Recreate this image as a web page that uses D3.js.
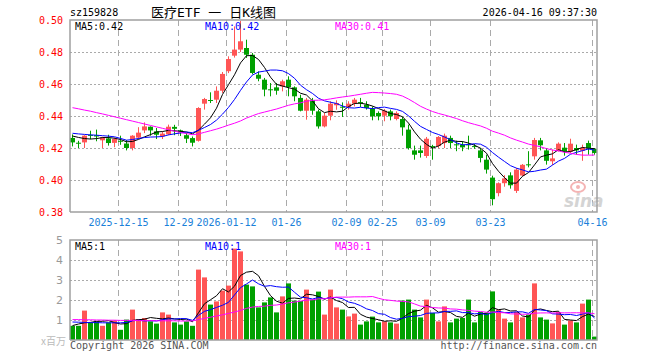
<!DOCTYPE html>
<html>
<head>
<meta charset="utf-8">
<script src="https://cdn.jsdelivr.net/npm/d3@7"></script>
<style>
  body { margin: 0; background: #fff; }
  text { font-family: "DejaVu Sans Mono", monospace; font-size: 10px; }
</style>
</head>
<body>
<div id="chart"></div>
<script>
// trading days shown (88 sessions)
const dates = [
  "2025-12-03","2025-12-04","2025-12-05","2025-12-08","2025-12-09","2025-12-10","2025-12-11","2025-12-12",
  "2025-12-15","2025-12-16","2025-12-17","2025-12-18","2025-12-19","2025-12-22","2025-12-23","2025-12-24",
  "2025-12-25","2025-12-26","2025-12-29","2025-12-30","2025-12-31","2026-01-05","2026-01-06","2026-01-07",
  "2026-01-08","2026-01-09","2026-01-12","2026-01-13","2026-01-14","2026-01-15","2026-01-16","2026-01-19",
  "2026-01-20","2026-01-21","2026-01-22","2026-01-23","2026-01-26","2026-01-27","2026-01-28","2026-01-29",
  "2026-01-30","2026-02-02","2026-02-03","2026-02-04","2026-02-05","2026-02-06","2026-02-09","2026-02-10",
  "2026-02-11","2026-02-12","2026-02-13","2026-02-24","2026-02-25","2026-02-26","2026-02-27","2026-03-02",
  "2026-03-03","2026-03-04","2026-03-05","2026-03-06","2026-03-09","2026-03-10","2026-03-11","2026-03-12",
  "2026-03-13","2026-03-16","2026-03-17","2026-03-18","2026-03-19","2026-03-20","2026-03-23","2026-03-24",
  "2026-03-25","2026-03-26","2026-03-27","2026-03-30","2026-03-31","2026-04-01","2026-04-02","2026-04-03",
  "2026-04-07","2026-04-08","2026-04-09","2026-04-10","2026-04-13","2026-04-14","2026-04-15","2026-04-16"
]

const opens = [
  0.4263,0.4233,0.4235,0.4282,0.4280,0.4248,0.4260,0.4232,0.4245,0.4228,
  0.4200,0.4265,0.4310,0.4333,0.4304,0.4273,0.4285,0.4332,0.4310,0.4280,
  0.4262,0.4245,0.4477,0.4500,0.4502,0.4558,0.4680,0.4777,0.4815,0.4825,
  0.4783,0.4658,0.4627,0.4567,0.4579,0.4585,0.4627,0.4579,0.4513,0.4433,
  0.4498,0.4429,0.4335,0.4402,0.4467,0.4458,0.4456,0.4477,0.4487,0.4471,
  0.4446,0.4419,0.4402,0.4429,0.4381,0.4381,0.4315,0.4185,0.4185,0.4150,
  0.4212,0.4212,0.4231,0.4263,0.4223,0.4221,0.4223,0.4212,0.4185,0.4127,
  0.4015,0.3918,0.3980,0.4029,0.3932,0.4028,0.4098,0.4148,0.4248,0.4185,
  0.4117,0.4182,0.4202,0.4177,0.4200,0.4183,0.4231,0.4194
]
const highs = [
  0.4285,0.4245,0.4280,0.4308,0.4315,0.4270,0.4283,0.4265,0.4277,0.4250,
  0.4280,0.4330,0.4360,0.4335,0.4325,0.4304,0.4346,0.4345,0.4315,0.4294,
  0.4272,0.4455,0.4513,0.4548,0.4585,0.4675,0.4773,0.4960,0.4995,0.4877,
  0.4794,0.4679,0.4638,0.4606,0.4606,0.4627,0.4648,0.4585,0.4533,0.4513,
  0.4513,0.4440,0.4419,0.4492,0.4498,0.4485,0.4492,0.4513,0.4513,0.4492,
  0.4460,0.4429,0.4444,0.4440,0.4429,0.4394,0.4346,0.4215,0.4215,0.4269,
  0.4220,0.4275,0.4290,0.4277,0.4246,0.4242,0.4277,0.4225,0.4200,0.4158,
  0.4027,0.3985,0.4030,0.4048,0.4075,0.4100,0.4180,0.4263,0.4263,0.4200,
  0.4190,0.4235,0.4231,0.4258,0.4221,0.4221,0.4246,0.4200
]
const lows = [
  0.4210,0.4200,0.4200,0.4255,0.4242,0.4200,0.4215,0.4205,0.4220,0.4185,
  0.4185,0.4255,0.4293,0.4277,0.4256,0.4256,0.4280,0.4280,0.4275,0.4231,
  0.4210,0.4240,0.4440,0.4481,0.4481,0.4544,0.4668,0.4765,0.4800,0.4763,
  0.4660,0.4617,0.4523,0.4523,0.4533,0.4554,0.4523,0.4492,0.4429,0.4377,
  0.4408,0.4321,0.4329,0.4373,0.4439,0.4394,0.4440,0.4460,0.4456,0.4440,
  0.4373,0.4373,0.4367,0.4373,0.4373,0.4277,0.4190,0.4127,0.4140,0.4138,
  0.4127,0.4200,0.4200,0.4200,0.4180,0.4180,0.4190,0.4195,0.4110,0.4040,
  0.3842,0.3898,0.3958,0.3946,0.3919,0.4023,0.4079,0.4127,0.4185,0.4096,
  0.4094,0.4178,0.4152,0.4169,0.4158,0.4120,0.4158,0.4158
]
const closes = [
  0.4235,0.4230,0.4277,0.4280,0.4272,0.4267,0.4231,0.4256,0.4240,0.4200,
  0.4277,0.4296,0.4335,0.4310,0.4283,0.4290,0.4333,0.4320,0.4298,0.4258,
  0.4233,0.4450,0.4506,0.4496,0.4558,0.4663,0.4756,0.4815,0.4867,0.4783,
  0.4669,0.4633,0.4565,0.4563,0.4558,0.4617,0.4581,0.4523,0.4433,0.4502,
  0.4433,0.4335,0.4402,0.4477,0.4481,0.4455,0.4477,0.4502,0.4484,0.4450,
  0.4398,0.4398,0.4433,0.4398,0.4419,0.4329,0.4200,0.4158,0.4169,0.4258,
  0.4210,0.4269,0.4277,0.4231,0.4221,0.4204,0.4221,0.4210,0.4138,0.4065,
  0.3880,0.3980,0.4010,0.3967,0.4065,0.4095,0.4095,0.4250,0.4217,0.4120,
  0.4135,0.4227,0.4179,0.4227,0.4185,0.4200,0.4200,0.4169
]
// volume, millions of shares
const volumes = [
  0.71,0.71,1.47,0.85,0.93,0.71,0.88,0.97,0.51,1.02,
  1.52,1.05,1.10,0.93,0.82,1.38,1.27,0.88,0.77,0.93,
  0.71,3.52,3.13,1.77,1.93,2.47,2.72,4.57,4.43,2.77,
  2.68,1.63,1.88,2.13,1.38,2.18,2.83,1.97,1.95,2.52,
  2.02,2.42,1.27,2.52,1.63,1.52,1.18,1.32,0.77,0.93,
  1.17,0.88,0.93,0.88,0.82,1.97,2.02,1.52,1.13,2.02,
  1.35,0.93,1.68,0.88,1.07,1.10,2.02,0.88,1.40,1.35,
  2.43,1.52,1.07,0.88,1.40,1.13,1.27,2.83,1.13,1.02,
  0.83,1.40,0.77,0.98,0.88,1.82,2.02,0.17
]

// moving averages before enough sessions are on screen
const ma5Head = [0.4275,0.4266,0.4259,0.4256]
const ma10Head = [0.4292,0.4288,0.4285,0.4282,0.4280,0.4277,0.4274,0.4270,0.4260]
const ma30Head = [
  0.4452,0.4445,0.4437,0.4430,0.4421,0.4413,0.4404,0.4395,0.4386,0.4377,
  0.4368,0.4359,0.4350,0.4341,0.4332,0.4323,0.4314,0.4305,0.4297,0.4290,
  0.4283,0.4288,0.4298,0.4308,0.4318,0.4330,0.4343,0.4355,0.4369
]
const volMa5Head = [0.72,0.80,0.86,0.88]
const volMa10Head = [0.90,0.89,0.88,0.87,0.87,0.86,0.86,0.86,0.86]
const volMa30Head = [
  1.02,1.02,1.01,1.01,1.00,1.00,0.99,0.99,0.98,0.98,
  0.98,0.97,0.97,0.97,0.96,0.96,0.96,0.96,0.95,0.95,
  0.96,1.02,1.08,1.14,1.20,1.26,1.33,1.40,1.48
]

const tickDates = ["2025-12-15","2025-12-29","2026-01-12","2026-01-26","2026-02-09","2026-02-25","2026-03-09","2026-03-23","2026-04-16"]
const tickLabels = ["2025-12-15","12-29","2026-01-12","01-26","02-09","02-25","03-09","03-23","04-16"]
const priceTicks = [0.38,0.40,0.42,0.44,0.46,0.48,0.50]
const volTicks = [1,2,3,4,5]
const priceMaLabels = ["MA5:0.42","MA10:0.42","MA30:0.41"]
const volMaLabels = ["MA5:1","MA10:1","MA30:1"]

const W = 660, H = 360
const left = 70, right = 597
const main = {top: 20, bottom: 212}
const vol = {top: 240, bottom: 340}
const RED = '#ff5555', GREEN = '#00a000'
const maColors = ['#000000','#0000ff','#ff00ff']

const svg = d3.select('#chart').append('svg')
  .attr('width', W).attr('height', H)

const x = d3.scaleBand().domain(dates).range([left, left + dates.length * 6]).padding(0)
const cx = d => x(d) + 2.5
const y = d3.scaleLinear().domain([0.38, 0.50]).range([main.bottom, main.top])
const yv = d3.scaleLinear().domain([0, 5]).range([vol.bottom, vol.top])

const movingAvg = (vals, n, head) => vals.map((v, i) => i < n - 1 ? head[i] : d3.mean(vals.slice(i - n + 1, i + 1)))

const candles = dates.map((d, i) => ({
  date: d, o: opens[i], h: highs[i], l: lows[i], c: closes[i], v: volumes[i],
  up: closes[i] >= opens[i]
}))

// header
svg.append('text').attr('x', 70).attr('y', 16).text('sz159828')
svg.append('text').attr('x', 151).attr('y', 17)
  .style('font-family', '"DejaVu Sans Mono","Noto Sans CJK SC",monospace')
  .style('font-size', '13px')
  .text('医疗ETF 一 日K线图')
svg.append('text').attr('x', 597).attr('y', 16).attr('text-anchor', 'end').text('2026-04-16 09:37:30')

function gridPanel(top, bottom, yScale, hTicks) {
  const g = svg.append('g')
  g.selectAll('line.h').data(hTicks).enter().append('line')
    .attr('x1', left).attr('x2', right)
    .attr('y1', d => Math.round(yScale(d)) + 0.5).attr('y2', d => Math.round(yScale(d)) + 0.5)
    .attr('stroke', '#aaa').attr('stroke-dasharray', '2,2')
  g.selectAll('line.v').data(tickDates).enter().append('line')
    .attr('x1', d => x(d) + 0.5).attr('x2', d => x(d) + 0.5)
    .attr('y1', top).attr('y2', bottom)
    .attr('stroke', '#aaa').attr('stroke-dasharray', '6,4')
  return g
}

gridPanel(main.top, main.bottom, y, [0.40, 0.42, 0.44, 0.46, 0.48])
gridPanel(vol.top, vol.bottom, yv, [1, 2, 3, 4])

// watermark
const wm = svg.append('g')
wm.append('ellipse').attr('cx', 578).attr('cy', 187).attr('rx', 7).attr('ry', 5)
  .attr('fill', 'none').attr('stroke', '#f4b4b4').attr('stroke-width', 2)
wm.append('circle').attr('cx', 578).attr('cy', 187).attr('r', 2).attr('fill', '#f4b4b4')
wm.append('text').attr('x', 564).attr('y', 207)
  .style('font-family', '"DejaVu Sans",sans-serif').style('font-size', '17px')
  .style('font-weight', 'bold').style('font-style', 'italic')
  .attr('fill', '#d4d4d4').text('sina')

// candles
const cg = svg.append('g')
cg.selectAll('line').data(candles).enter().append('line')
  .attr('x1', d => cx(d.date)).attr('x2', d => cx(d.date))
  .attr('y1', d => y(d.h)).attr('y2', d => y(d.l))
  .attr('stroke', d => d.up ? RED : GREEN)
cg.selectAll('rect').data(candles).enter().append('rect')
  .attr('x', d => x(d.date)).attr('width', 5)
  .attr('y', d => y(Math.max(d.o, d.c)))
  .attr('height', d => Math.max(1, Math.abs(y(d.o) - y(d.c))))
  .attr('fill', d => d.up ? RED : GREEN)

// volume bars
svg.append('g').selectAll('rect').data(candles).enter().append('rect')
  .attr('x', d => x(d.date)).attr('width', 5)
  .attr('y', d => yv(d.v)).attr('height', d => yv(0) - yv(d.v))
  .attr('fill', d => d.up ? RED : GREEN)

// moving average lines
const priceMas = [movingAvg(closes, 5, ma5Head), movingAvg(closes, 10, ma10Head), movingAvg(closes, 30, ma30Head)]
const volMas = [movingAvg(volumes, 5, volMa5Head), movingAvg(volumes, 10, volMa10Head), movingAvg(volumes, 30, volMa30Head)]

const priceLine = d3.line().x((d, i) => cx(dates[i])).y(d => y(d))
const volLine = d3.line().x((d, i) => cx(dates[i])).y(d => yv(d))
priceMas.forEach((m, k) => {
  svg.append('path').attr('d', priceLine(m)).attr('fill', 'none').attr('stroke', maColors[k]).attr('stroke-width', 1)
})
volMas.forEach((m, k) => {
  svg.append('path').attr('d', volLine(m)).attr('fill', 'none').attr('stroke', maColors[k]).attr('stroke-width', 1)
})

// panel frames
function frame(top, bottom) {
  svg.append('path')
    .attr('d', `M${left},${bottom}V${top}H${right}V${bottom}H${left}`)
    .attr('fill', 'none').attr('stroke', '#a0a0a0').attr('stroke-width', 1.5)
}
frame(main.top, main.bottom)
frame(vol.top, vol.bottom)

// price axis
const ya = svg.append('g').attr('transform', `translate(${left - 4},0)`)
  .call(d3.axisLeft(y).tickValues(priceTicks).tickFormat(d3.format('.2f')).tickSize(0))
ya.select('.domain').remove()
ya.selectAll('text').attr('fill', '#ff0000').attr('dx', 0).attr('dy', '0.35em')
  .style('font-family', '"DejaVu Sans Mono",monospace').style('font-size', '10px')

// volume axis
const va = svg.append('g').attr('transform', `translate(${left - 4},0)`)
  .call(d3.axisLeft(yv).tickValues(volTicks).tickFormat(d3.format('d')).tickSize(0))
va.select('.domain').remove()
va.selectAll('text').attr('fill', '#999').attr('dy', '0.35em')
  .style('font-family', '"DejaVu Sans",sans-serif').style('font-size', '11px')
svg.append('text').attr('x', 66).attr('y', 345).attr('text-anchor', 'end')
  .attr('fill', '#bbb').style('font-family', '"Noto Sans CJK SC",sans-serif').style('font-size', '10px')
  .text('x百万')

// date labels
svg.append('g').selectAll('text').data(tickDates).enter().append('text')
  .attr('x', d => x(d) + 0.5).attr('y', 225.5).attr('text-anchor', 'middle')
  .attr('fill', '#1a7fd9')
  .text((d, i) => tickLabels[i])

// MA legends
const legendX = [75, 205, 335]
priceMaLabels.forEach((t, k) => {
  svg.append('text').attr('x', legendX[k]).attr('y', 29.5).attr('fill', maColors[k]).text(t)
})
volMaLabels.forEach((t, k) => {
  svg.append('text').attr('x', legendX[k]).attr('y', 250).attr('fill', maColors[k]).text(t)
})

// footer
svg.append('text').attr('x', 70).attr('y', 349).attr('fill', '#555').text('Copyright 2026 SINA.COM')
svg.append('text').attr('x', 597).attr('y', 349).attr('text-anchor', 'end').attr('fill', '#555').text('http://finance.sina.com.cn')
</script>
</body>
</html>
